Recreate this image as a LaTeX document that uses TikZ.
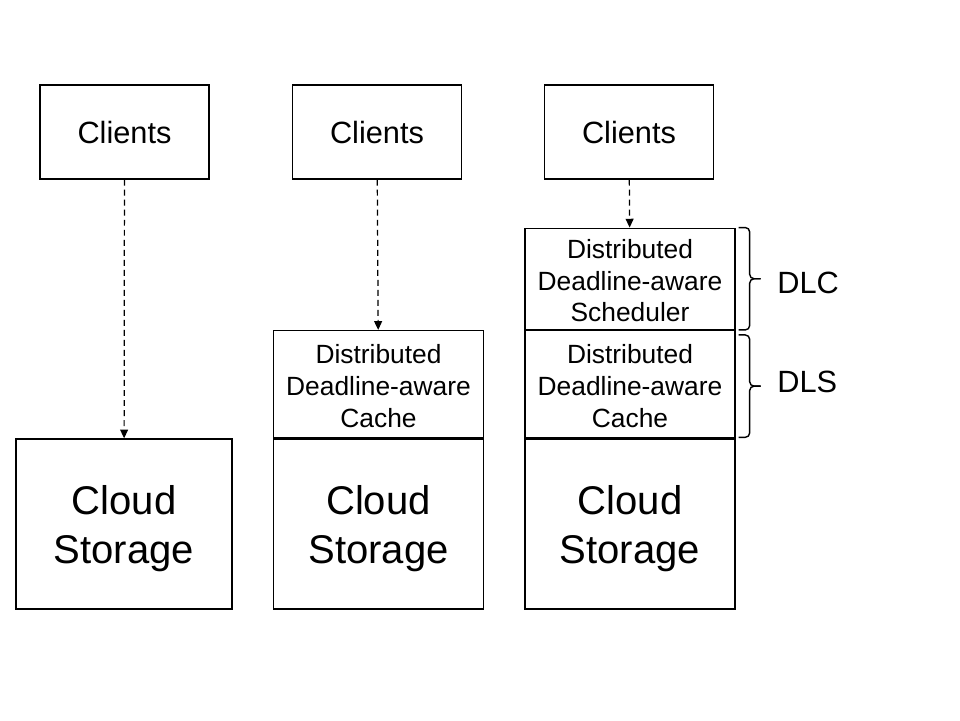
\documentclass[tikz,border=0pt]{standalone}
\usepackage{fontspec}
\setmainfont{Liberation Sans}
\usetikzlibrary{positioning, arrows.meta, calc}

\begin{document}
\begin{tikzpicture}[
    x=0.02cm, y=-0.02cm,
    clientBox/.style={draw=black, line width=0.8pt, rectangle, fill=white, align=center, font=\fontsize{17.5}{21}\selectfont, minimum width=3.38cm, minimum height=1.88cm, inner sep=0pt},
    cloudBox/.style={draw=black, line width=0.8pt, rectangle, fill=white, align=center, font=\fontsize{22.8}{28}\selectfont, minimum height=3.4cm, inner sep=0pt},
    layerBox/.style={draw=black, line width=0.8pt, rectangle, fill=white, align=center, font=\fontsize{15}{18}\selectfont, minimum width=4.2cm, inner sep=0pt},
    reqArrow/.style={draw=black, line width=0.7pt, dash pattern=on 3.4pt off 2.3pt, -{Triangle[length=5pt, width=4.5pt]}},
    layerBrace/.style={draw=black, line width=0.8pt, rounded corners=2.5pt},
    tagLabel/.style={anchor=west, font=\fontsize{17.5}{21}\selectfont, inner sep=0pt},
]
\useasboundingbox (0,0) rectangle (960,720);

% direct access
\node[clientBox] (clientsA) at (124.5, 132) {\rule{0pt}{13pt}Clients};
\node[cloudBox, minimum width=4.32cm] (cloudA) at (124, 524) {\rule{0pt}{22pt}Cloud\\Storage};
\draw[reqArrow] (clientsA) -- (cloudA);

% with cache
\node[clientBox] (clientsB) at (377, 132) {\rule{0pt}{13pt}Clients};
\node[cloudBox, minimum width=4.2cm] (cloudB) at (378.5, 524) {\rule{0pt}{22pt}Cloud\\Storage};
\node[layerBox, minimum height=2.14cm, above=0pt of cloudB] (cacheB) {\rule{0pt}{13pt}Distributed\\Deadline-aware\\Cache};
\draw[reqArrow] (clientsB) -- (cacheB);

% with scheduler and cache
\node[clientBox] (clientsC) at (629, 132) {\rule{0pt}{13pt}Clients};
\node[cloudBox, minimum width=4.2cm] (cloudC) at (630, 524) {\rule{0pt}{22pt}Cloud\\Storage};
\node[layerBox, minimum height=2.14cm, above=0pt of cloudC] (cacheC) {\rule{0pt}{13pt}Distributed\\Deadline-aware\\Cache};
\node[layerBox, minimum height=2.02cm, above=0pt of cacheC] (schedC) {\rule{0pt}{13pt}Distributed\\Deadline-aware\\Scheduler};
\draw[reqArrow] (clientsC) -- (schedC);

% braces
\draw[layerBrace] ($(schedC.north east)+(3,0)$) -- ($(schedC.north east)+(14,0)$) -- ($(schedC.east)+(14,0)$) -- ($(schedC.east)+(25,0)$);
\draw[layerBrace] ($(schedC.east)+(25,0)$) -- ($(schedC.east)+(14,0)$) -- ($(schedC.south east)+(14,0)$) -- ($(schedC.south east)+(3,0)$);
\draw[layerBrace] ($(cacheC.north east)+(3,5)$) -- ($(cacheC.north east)+(14,5)$) -- ($(cacheC.east)+(14,2)$) -- ($(cacheC.east)+(25,2)$);
\draw[layerBrace] ($(cacheC.east)+(25,2)$) -- ($(cacheC.east)+(14,2)$) -- ($(cacheC.south east)+(14,-1)$) -- ($(cacheC.south east)+(3,-1)$);
\node[tagLabel] (dlc) at (777, 283) {DLC};
\node[tagLabel] (dls) at (777, 382) {DLS};
\end{tikzpicture}
\end{document}
